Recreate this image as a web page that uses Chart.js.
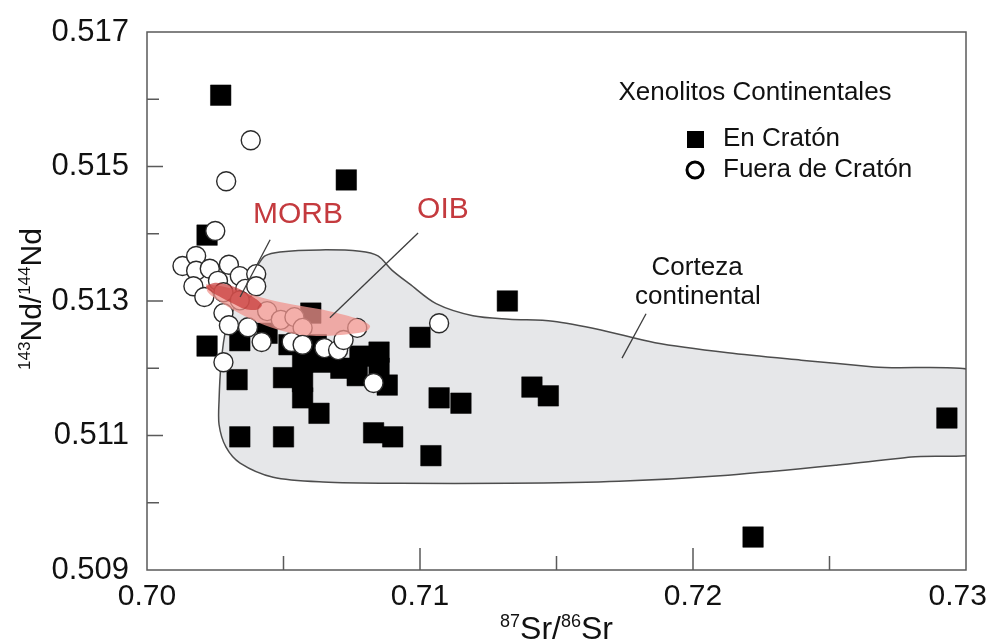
<!DOCTYPE html>
<html>
<head>
<meta charset="utf-8">
<script src="https://cdn.jsdelivr.net/npm/chart.js@4.4.1/dist/chart.umd.min.js"></script>
<style>
  html, body { margin: 0; padding: 0; background: #fff; }
</style>
</head>
<body>
<canvas id="chart" width="990" height="644"></canvas>
<script>

//xenoliths on craton (black squares)
const enCratonSr = [0.7027, 0.7073, 0.7022, 0.7132, 0.7060, 0.7022, 0.7034, 0.7100, 0.7033, 0.7044,
  0.7052, 0.7050, 0.7057, 0.7057, 0.7057, 0.7063, 0.7064, 0.7071, 0.7078, 0.7077,
  0.7085, 0.7088, 0.7062, 0.7085, 0.7034, 0.7050, 0.7083, 0.7090, 0.7104, 0.7107,
  0.7115, 0.7141, 0.7147, 0.7293, 0.7222];
const enCratonNd = [0.51606, 0.51480, 0.51398, 0.51300, 0.51282, 0.51233, 0.51241, 0.51246, 0.51183, 0.51252,
  0.51235, 0.51186, 0.51209, 0.51180, 0.51156, 0.51133, 0.51209, 0.51200, 0.51218, 0.51189,
  0.51200, 0.51175, 0.51235, 0.51224, 0.51098, 0.51098, 0.51104, 0.51098, 0.51070, 0.51156,
  0.51148, 0.51172, 0.51159, 0.51126, 0.50949];

//xenoliths off craton (open circles)
const fueraSr = [0.7038, 0.7029, 0.7025, 0.7013, 0.7018, 0.7018, 0.7023, 0.7030, 0.7026, 0.7034,
  0.7040, 0.7017, 0.7021, 0.7036, 0.7040, 0.7028, 0.7030, 0.7037, 0.7042, 0.7028,
  0.7044, 0.7049, 0.7054, 0.7057, 0.7053, 0.7057, 0.7065, 0.7070, 0.7072, 0.7077,
  0.7083, 0.7107, 0.7028, 0.7034];
const fueraNd = [0.51539, 0.51478, 0.51404, 0.51352, 0.51367, 0.51345, 0.51348, 0.51354, 0.51330, 0.51337,
  0.51340, 0.51322, 0.51306, 0.51318, 0.51322, 0.51282, 0.51264, 0.51261, 0.51239, 0.51209,
  0.51285, 0.51272, 0.51276, 0.51260, 0.51239, 0.51235, 0.51230, 0.51227, 0.51242, 0.51260,
  0.51178, 0.51267, 0.51313, 0.51301];

//outline of the continental crust field (closed, runs past the right border)
const cortezaSr = [0.70407, 0.70432, 0.70487, 0.70634, 0.70780, 0.70846, 0.70897, 0.70963, 0.71059, 0.71194,
  0.71326, 0.71487, 0.71663, 0.71861, 0.72128, 0.72396, 0.72663, 0.73100, 0.73100, 0.72799,
  0.72531, 0.72128, 0.71729, 0.71326, 0.70927, 0.70645, 0.70462, 0.70341, 0.70289, 0.70264,
  0.70264, 0.70271, 0.70289, 0.70341, 0.70385, 0.70407];
const cortezaNd = [0.51354, 0.51367, 0.51373, 0.51376, 0.51374, 0.51367, 0.51346, 0.51325, 0.51296, 0.51278,
  0.51273, 0.51270, 0.51257, 0.51238, 0.51223, 0.51212, 0.51202, 0.51187, 0.51082, 0.51068,
  0.51056, 0.51041, 0.51032, 0.51029, 0.51029, 0.51031, 0.51038, 0.51059, 0.51083, 0.51116,
  0.51153, 0.51205, 0.51257, 0.51309, 0.51339, 0.51354];

//OIB and MORB fields
const oibSr = [0.70216, 0.70286, 0.70377, 0.70469, 0.70560, 0.70645, 0.70725, 0.70780, 0.70817, 0.70802,
  0.70744, 0.70645, 0.70542, 0.70432, 0.70341, 0.70275, 0.70223, 0.70216];
const oibNd = [0.51325, 0.51321, 0.51310, 0.51300, 0.51293, 0.51287, 0.51279, 0.51272, 0.51263, 0.51255,
  0.51251, 0.51248, 0.51251, 0.51264, 0.51281, 0.51297, 0.51313, 0.51325];
const morbSr = [0.70216, 0.70249, 0.70297, 0.70352, 0.70399, 0.70421, 0.70403, 0.70359, 0.70311, 0.70264, 0.70227, 0.70216];
const morbNd = [0.51322, 0.51327, 0.51324, 0.51315, 0.51303, 0.51294, 0.51287, 0.51288, 0.51297, 0.51307, 0.51316, 0.51322];

//leader lines from the labels to the fields
const morbLeaderSr = [0.70451, 0.70341];
const morbLeaderNd = [0.51391, 0.51306];
const oibLeaderSr = [0.70993, 0.70670];
const oibLeaderNd = [0.51401, 0.51275];
const cortezaLeaderSr = [0.71828, 0.71740];
const cortezaLeaderNd = [0.51281, 0.51215];

//axis ticks
const xTickValues = [0.70, 0.71, 0.72, 0.73];
const xTickLabels = ["0.70", "0.71", "0.72", "0.73"];
const xMinorTicks = [0.705, 0.715, 0.725];
const yTickValues = [0.509, 0.511, 0.513, 0.515, 0.517];
const yTickLabels = ["0.509", "0.511", "0.513", "0.515", "0.517"];
const yMinorTicks = [0.510, 0.512, 0.514, 0.516];

//texts
const seriesNames = ["En Cratón", "Fuera de Cratón"];
const legendTitle = "Xenolitos Continentales";
const fieldNames = ["MORB", "OIB", "Corteza", "continental"];
const xTitleParts = [["87", true], ["Sr/", false], ["86", true], ["Sr", false]];
const yTitleParts = [["143", true], ["Nd/", false], ["144", true], ["Nd", false]];


const FONT = '"Liberation Sans", Arial, Helvetica, sans-serif';

function zip(xs, ys) { return xs.map((v, i) => ({ x: v, y: ys[i] })); }

//draws text with superscript pieces, centred on 0 with baseline at 0
function drawRich(ctx, parts, mainSize, supSize, rise) {
  let total = 0;
  const widths = parts.map(p => {
    ctx.font = (p[1] ? supSize : mainSize) + "px " + FONT;
    const w = ctx.measureText(p[0]).width;
    total += w;
    return w;
  });
  let cx = -total / 2;
  ctx.textAlign = "left";
  ctx.textBaseline = "alphabetic";
  parts.forEach((p, i) => {
    ctx.font = (p[1] ? supSize : mainSize) + "px " + FONT;
    ctx.fillText(p[0], cx, p[1] ? -rise : 0);
    cx += widths[i];
  });
}

//frame, inward ticks, labels, legend and axis titles
const decorPlugin = {
  id: "decor",
  afterDatasetsDraw(chart) {
    const { ctx, chartArea: a, scales: { x, y } } = chart;
    ctx.save();

    //frame
    ctx.strokeStyle = "#5a5a5a";
    ctx.lineWidth = 1.5;
    ctx.strokeRect(a.left, a.top, a.right - a.left, a.bottom - a.top);

    //inward tick marks
    ctx.beginPath();
    const tickX = (v, len) => {
      const px = x.getPixelForValue(v);
      ctx.moveTo(px, a.bottom); ctx.lineTo(px, a.bottom - len);
    };
    const tickY = (v, len) => {
      const py = y.getPixelForValue(v);
      ctx.moveTo(a.left, py); ctx.lineTo(a.left + len, py);
    };
    xTickValues.slice(1, -1).forEach(v => tickX(v, 22));
    xMinorTicks.forEach(v => tickX(v, 14));
    yTickValues.slice(1, -1).forEach(v => tickY(v, 16));
    yMinorTicks.forEach(v => tickY(v, 12));
    ctx.stroke();

    //field labels
    ctx.textAlign = "center";
    ctx.textBaseline = "middle";
    ctx.fillStyle = "#c43a3e";
    ctx.font = "30px " + FONT;
    ctx.fillText(fieldNames[0], x.getPixelForValue(0.70553), y.getPixelForValue(0.51429));
    ctx.fillText(fieldNames[1], x.getPixelForValue(0.71084), y.getPixelForValue(0.51435));
    ctx.fillStyle = "#111";
    ctx.font = "26px " + FONT;
    ctx.fillText(fieldNames[2], x.getPixelForValue(0.72015), y.getPixelForValue(0.51349));
    ctx.fillText(fieldNames[3], x.getPixelForValue(0.72018), y.getPixelForValue(0.51306));

    //legend
    ctx.fillText(legendTitle, a.right - 211, a.top + 61);
    ctx.textAlign = "left";
    ctx.fillText(seriesNames[0], a.right - 243, a.top + 107);
    ctx.fillText(seriesNames[1], a.right - 243, a.top + 138);
    ctx.fillStyle = "#000";
    ctx.fillRect(a.right - 279, a.top + 99, 17, 17);
    ctx.beginPath();
    ctx.arc(a.right - 271, a.top + 138, 8, 0, Math.PI * 2);
    ctx.lineWidth = 3;
    ctx.strokeStyle = "#000";
    ctx.stroke();

    //axis titles
    ctx.fillStyle = "#111";
    ctx.save();
    ctx.translate((a.left + a.right) / 2, 639);
    drawRich(ctx, xTitleParts, 32, 18, 12);
    ctx.restore();
    ctx.save();
    ctx.translate(41, (a.top + a.bottom) / 2 - 2);
    ctx.rotate(-Math.PI / 2);
    drawRich(ctx, yTitleParts, 30, 17, 11);
    ctx.restore();

    ctx.restore();
  }
};

const lineField = (label, xs, ys, fillColour, lineColour, order) => ({
  type: "line",
  label: label,
  data: zip(xs, ys),
  backgroundColor: fillColour,
  borderColor: lineColour,
  borderWidth: 1.5,
  fill: "shape",
  tension: 0.3,
  pointRadius: 0,
  order: order,
});

const leader = (xs, ys) => ({
  type: "line",
  data: zip(xs, ys),
  borderColor: "#3d3d3d",
  borderWidth: 1.3,
  fill: false,
  tension: 0,
  pointRadius: 0,
  order: 1,
});

new Chart(document.getElementById("chart"), {
  type: "scatter",
  data: {
    datasets: [
      lineField("Corteza continental", cortezaSr, cortezaNd, "#e6e7e9", "#4d4d4d", 10),
      {
        type: "scatter",
        label: seriesNames[0],
        data: zip(enCratonSr, enCratonNd),
        pointStyle: "rect",
        pointRadius: 14.5,
        backgroundColor: "#000",
        borderColor: "#000",
        borderWidth: 0.5,
        order: 8,
      },
      {
        type: "scatter",
        label: seriesNames[1],
        data: zip(fueraSr, fueraNd),
        pointStyle: "circle",
        pointRadius: 9.5,
        backgroundColor: "#fff",
        borderColor: "#2a2a2a",
        borderWidth: 1.4,
        order: 6,
      },
      lineField("OIB", oibSr, oibNd, "rgba(240,148,142,0.75)", "rgba(0,0,0,0)", 4),
      lineField("MORB", morbSr, morbNd, "rgba(196,52,50,0.68)", "rgba(0,0,0,0)", 3),
      leader(morbLeaderSr, morbLeaderNd),
      leader(oibLeaderSr, oibLeaderNd),
      leader(cortezaLeaderSr, cortezaLeaderNd),
    ]
  },
  options: {
    responsive: false,
    animation: false,
    devicePixelRatio: 1,
    layout: { padding: { top: 32, right: 24, bottom: 0, left: 0 } },
    plugins: { legend: { display: false }, tooltip: { enabled: false } },
    scales: {
      x: {
        type: "linear",
        min: 0.70,
        max: 0.73,
        grid: { display: false },
        border: { display: false },
        afterBuildTicks: s => { s.ticks = xTickValues.map(v => ({ value: v })); },
        afterFit: s => { s.height = 74; s.paddingLeft = 0; s.paddingRight = 0; },
        ticks: {
          autoSkip: false,
          maxRotation: 0,
          padding: 1,
          color: "#111",
          font: { family: FONT, size: 30 },
          //trailing spaces pull the last label back inside the canvas like the original
          callback: (v, i) => i === xTickLabels.length - 1 ? xTickLabels[i] + "  " : xTickLabels[i],
        },
      },
      y: {
        type: "linear",
        min: 0.509,
        max: 0.517,
        grid: { display: false },
        border: { display: false },
        afterBuildTicks: s => { s.ticks = yTickValues.map(v => ({ value: v })); },
        afterFit: s => { s.width = 147; s.paddingTop = 0; s.paddingBottom = 0; },
        ticks: {
          autoSkip: false,
          padding: 10,
          color: "#111",
          font: { family: FONT, size: 31 },
          callback: (v, i) => yTickLabels[i],
        },
      },
    },
  },
  plugins: [decorPlugin],
});
</script>
</body>
</html>
